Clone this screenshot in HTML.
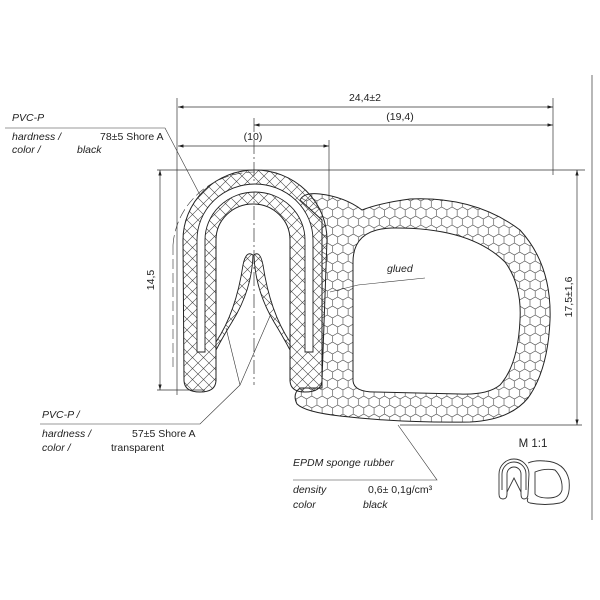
<!DOCTYPE html>
<html><head><meta charset="utf-8"><style>
html,body{margin:0;padding:0;background:#fff}
svg{display:block}
text{font-family:"Liberation Sans",sans-serif;font-size:10.5px;fill:#222}
.i{font-style:italic}
</style></head><body>
<svg width="600" height="600" viewBox="0 0 600 600" xmlns="http://www.w3.org/2000/svg">
<defs>
<pattern id="x" width="11" height="11" patternUnits="userSpaceOnUse">
<path d="M0 0L11 11M11 0L0 11" stroke="#444" stroke-width="0.6"/>
</pattern>
<pattern id="h" width="10.392" height="18" patternUnits="userSpaceOnUse">
<path d="M0 0L5.196 3L10.392 0M5.196 3L5.196 9L0 12L0 18M5.196 9L10.392 12L10.392 18" fill="none" stroke="#444" stroke-width="0.6"/>
</pattern>
<marker id="a" viewBox="0 0 10 6" refX="10" refY="3" markerWidth="8" markerHeight="5" orient="auto-start-reverse"><path d="M0 0L10 3L0 6Z" fill="#222"/></marker>
</defs>
<g stroke="#333" stroke-width="0.7" fill="none">
<line x1="177" y1="98" x2="177" y2="395"/>
<line x1="553" y1="98" x2="553" y2="175"/>
<line x1="254" y1="118" x2="254" y2="385" stroke-dasharray="14 3 2 3"/>
<line x1="329" y1="140" x2="329" y2="200"/>
<line x1="178" y1="107" x2="553" y2="107" marker-start="url(#a)" marker-end="url(#a)"/>
<line x1="254" y1="125" x2="553" y2="125" marker-start="url(#a)" marker-end="url(#a)"/>
<line x1="178" y1="146" x2="329" y2="146" marker-start="url(#a)" marker-end="url(#a)"/>
<line x1="157" y1="170" x2="585" y2="170"/>
<line x1="160" y1="170" x2="160" y2="390" marker-start="url(#a)" marker-end="url(#a)"/>
<line x1="157" y1="390" x2="205" y2="390"/>
<line x1="577" y1="170" x2="577" y2="425" marker-start="url(#a)" marker-end="url(#a)"/>
<line x1="400" y1="425" x2="582" y2="425"/>
<line x1="592" y1="75" x2="592" y2="520"/>
</g>
<text x="365" y="101" text-anchor="middle">24,4±2</text>
<text x="400" y="120" text-anchor="middle">(19,4)</text>
<text x="253" y="140" text-anchor="middle">(10)</text>
<text transform="translate(154,280) rotate(-90)" text-anchor="middle">14,5</text>
<text transform="translate(572,297) rotate(-90)" text-anchor="middle">17,5±1,6</text>

<!-- sponge bulb -->
<path d="M300 200 Q304 192 320 194 Q345 197 362 210 Q380 203 410 199 Q475 196 520 230 Q552 265 550 320 Q548 370 528 398 Q510 420 470 422 Q400 423 340 416 Q305 412 297 404 Q292 394 300 388 L322 388 L322 220 Z" fill="url(#h)" stroke="#222" stroke-width="1"/>
<path d="M353 380 L353 262 Q353 229 392 228 Q470 227 505 262 Q522 285 520 320 Q518 365 500 385 Q488 395 460 394 L375 392 Q353 392 353 380Z" fill="#fff" stroke="#222" stroke-width="1"/>

<!-- U clip -->
<path d="M183 240 A72 70 0 0 1 327 240 L322 380 Q322 392 305 392 Q290 392 290 380 L290 240 A37 36 0 0 0 216 240 L216 380 Q216 392 200 392 Q184 392 184 380 Z" fill="url(#x)" stroke="#222" stroke-width="1"/>
<path d="M197 352 L197 240 A58 56 0 0 1 313 240 L313 352 L305 352 L305 240 A50 48 0 0 0 205 240 L205 352 Z" fill="#fff" stroke="#222" stroke-width="0.9"/>
<path d="M173 245 A82 78 0 0 1 255 172" fill="none" stroke="#333" stroke-width="0.6" stroke-dasharray="10 4"/>
<path d="M173 245 L173 370" fill="none" stroke="#333" stroke-width="0.6" stroke-dasharray="10 4"/>
<!-- lips -->
<path d="M216 342 Q236 312 243 265 Q246 250 253 255 Q252 290 232 322 Q224 335 216 350 Z" fill="url(#x)" stroke="#222" stroke-width="0.9"/>
<path d="M290 342 Q270 312 263 265 Q260 250 254 255 Q255 290 274 322 Q282 335 290 350 Z" fill="url(#x)" stroke="#222" stroke-width="0.9"/>

<g stroke="#333" stroke-width="0.6" fill="none">
<polyline points="5,128 165,128 200,195"/>
<polyline points="40,424 200,424 240,385 226,328"/>
<line x1="240" y1="385" x2="270" y2="316"/>
<polyline points="425,278 358,285 330,292"/>
<polyline points="293,480 437,480 398,425"/>
</g>
<text x="12" y="121" class="i">PVC-P</text>
<text x="12" y="140" class="i">hardness /</text><text x="100" y="140">78±5 Shore A</text>
<text x="12" y="153" class="i">color /</text><text x="77" y="153" class="i">black</text>
<text x="387" y="272" class="i">glued</text>
<text x="42" y="418" class="i">PVC-P /</text>
<text x="42" y="437" class="i">hardness /</text><text x="132" y="437">57±5 Shore A</text>
<text x="42" y="451" class="i">color /</text><text x="111" y="451">transparent</text>
<text x="293" y="466" class="i">EPDM sponge rubber</text>
<text x="293" y="493" class="i">density</text><text x="368" y="493">0,6± 0,1g/cm³</text>
<text x="293" y="508" class="i">color</text><text x="363" y="508" class="i">black</text>
<text x="533" y="447" text-anchor="middle" style="font-size:11.5px">M 1:1</text>

<g fill="none" stroke="#333" stroke-width="0.9">
<path d="M499 474 A15 15 0 0 1 529 474 L528 494 Q528 499 524 499 Q521 499 521 494 L521 474 A7 7 0 0 0 507 474 L507 494 Q507 499 503 499 Q499 499 499 494 Z"/>
<path d="M502 474 A12 12 0 0 1 526 474 M502 474 L502 490 M526 474 L526 490"/>
<path d="M507 492 L514 478 L521 492"/>
<path d="M528 463 Q535 460 545 461 Q565 462 569 480 Q571 500 560 503 Q545 506 530 503 Q526 502 528 498"/>
<path d="M535 472 Q545 468 555 470 Q563 478 562 490 Q560 498 548 498 Q538 498 535 494 Z"/>
</g>
</svg>
</body></html>
